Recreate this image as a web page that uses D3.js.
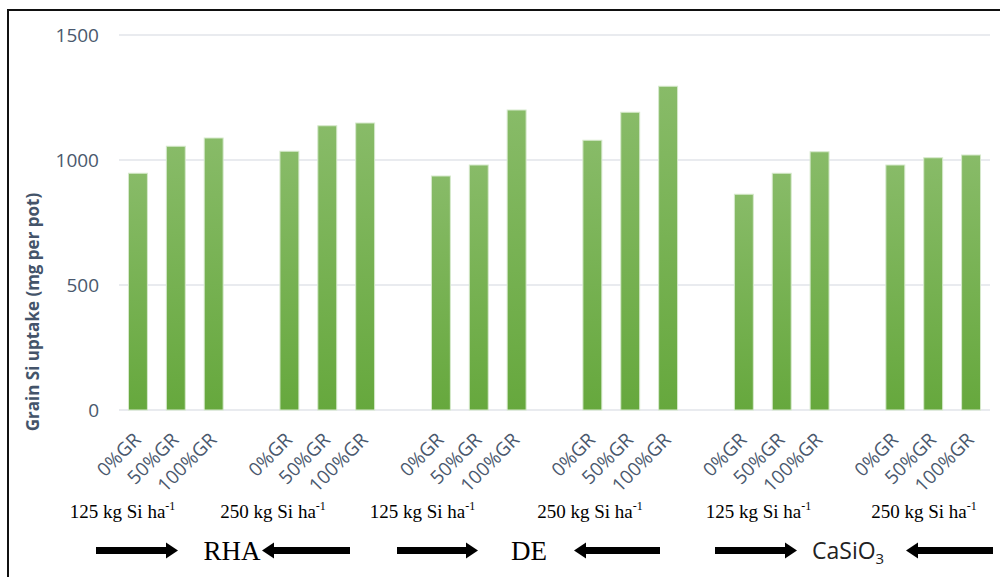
<!DOCTYPE html>
<html>
<head>
<meta charset="utf-8">
<script src="https://cdn.jsdelivr.net/npm/d3@7"></script>
<style>
  body { margin: 0; background: #fff; }
  svg { display: block; }
</style>
</head>
<body>
<div class="chart"></div>
<script>
// values
const sources = ['RHA', 'DE', 'CaSiO3'];
const doses = ['125', '250'];
const rates = ['0%GR', '50%GR', '100%GR'];
const uptake = [
  [947, 1055, 1088],   // RHA 125
  [1035, 1137, 1148],  // RHA 250
  [936, 980, 1200],    // DE 125
  [1079, 1191, 1295],  // DE 250
  [863, 947, 1033],    // CaSiO3 125
  [980, 1009, 1020]    // CaSiO3 250
];
const yTicks = [0, 500, 1000, 1500];

const width = 1000, height = 577;
const margin = ({top: 35, bottom: 167, left: 119, right: 10});
const serif = "'Liberation Serif', 'Times New Roman', serif";

let svg = d3.select('.chart')
  .append('svg')
  .attr('width', width)
  .attr('height', height);

// slots: 3 bars per group, an empty slot between groups
let slots = [];
uptake.forEach((g, gi) => {
  g.forEach((v, ri) => slots.push({key: gi + '-' + ri, group: gi, rate: rates[ri], value: v}));
  if (gi < uptake.length - 1) slots.push({key: 'gap' + gi, gap: true});
});
const bars = slots.filter(d => !d.gap);

const xScale = d3.scaleBand()
  .domain(slots.map(d => d.key))
  .range([margin.left, width - margin.right])
  .paddingInner(0.5)
  .paddingOuter(0.25);
const yScale = d3.scaleLinear()
  .domain([0, 1500])
  .range([height - margin.bottom, margin.top]);

const defs = svg.append('defs');
const grad = defs.append('linearGradient')
  .attr('id', 'barGrad')
  .attr('x1', 0).attr('y1', 0).attr('x2', 0).attr('y2', 1);
grad.append('stop').attr('offset', '0%').attr('stop-color', '#88bb68');
grad.append('stop').attr('offset', '100%').attr('stop-color', '#66a83d');

// frame
svg.append('rect')
  .attr('x', 8).attr('y', 10)
  .attr('width', 1010).attr('height', 600)
  .attr('fill', 'none')
  .attr('stroke', '#111')
  .attr('stroke-width', 2);

// grid
svg.append('g')
  .selectAll('line')
  .data(yTicks)
  .join('line')
  .attr('x1', margin.left)
  .attr('x2', width - margin.right)
  .attr('y1', d => yScale(d))
  .attr('y2', d => yScale(d))
  .attr('stroke', '#e2e5ea')
  .attr('stroke-width', 1.5);

const yAxis = d3.axisLeft(yScale)
  .tickValues(yTicks)
  .tickFormat(d3.format('d'))
  .tickSize(0)
  .tickPadding(20);
svg.append('g')
  .attr('class', 'axis y-axis')
  .attr('transform', `translate(${margin.left},0)`)
  .call(yAxis)
  .call(g => g.select('.domain').remove())
  .selectAll('text')
  .attr('font-family', 'Open Sans')
  .attr('font-size', 19)
  .attr('fill', '#4a586d');

svg.append('text')
  .text('Grain Si uptake (mg per pot)')
  .attr('transform', 'translate(39,312) rotate(-90)')
  .attr('text-anchor', 'middle')
  .attr('font-family', 'Open Sans')
  .attr('font-weight', 'bold')
  .attr('font-size', 17)
  .attr('fill', '#44546a');

// bars
svg.append('g')
  .selectAll('rect')
  .data(bars)
  .join('rect')
  .attr('x', d => xScale(d.key))
  .attr('width', xScale.bandwidth())
  .attr('y', d => yScale(d.value))
  .attr('height', d => yScale(0) - yScale(d.value))
  .attr('fill', 'url(#barGrad)')
  .attr('stroke', '#d6e9cc')
  .attr('stroke-width', 1);

// rotated category labels
svg.append('g')
  .selectAll('text')
  .data(bars)
  .join('text')
  .text(d => d.rate)
  .attr('transform', d => `translate(${xScale(d.key) + xScale.bandwidth() / 2 + 4},441) rotate(-45)`)
  .attr('text-anchor', 'end')
  .attr('font-family', 'Open Sans')
  .attr('font-size', 19)
  .attr('fill', '#4a586d');

// dose labels under each group
const doseShift = [-106, -107, -109, -93, -76, -62];
const groupCenter = gi => xScale(gi + '-1') + xScale.bandwidth() / 2;
let doseText = svg.append('g')
  .selectAll('text')
  .data(uptake.map((g, gi) => gi))
  .join('text')
  .attr('x', gi => groupCenter(gi) + doseShift[gi])
  .attr('y', 518)
  .style('font-family', serif)
  .attr('font-size', 19)
  .attr('fill', '#000');
doseText.append('tspan').text(gi => doses[gi % 2] + ' kg Si ha');
doseText.append('tspan').text('-1').attr('font-size', 12).attr('dy', -8);

// arrows and source names
const arrowY = 550.5;
function arrow(x1, x2) {
  // head at x2
  const dir = Math.sign(x2 - x1), hl = 12, hh = 8, sh = 3.5;
  const xb = x2 - dir * hl;
  return `M${x1},${arrowY - sh}L${xb},${arrowY - sh}L${xb},${arrowY - hh}L${x2},${arrowY}` +
    `L${xb},${arrowY + hh}L${xb},${arrowY + sh}L${x1},${arrowY + sh}Z`;
}
const arrows = [[96, 178], [350, 262], [397, 478], [660, 574], [715, 797], [993, 906]];
svg.append('g')
  .selectAll('path')
  .data(arrows)
  .join('path')
  .attr('d', d => arrow(d[0], d[1]))
  .attr('fill', '#000');

svg.append('text').text(sources[0])
  .attr('x', 232).attr('y', 560)
  .attr('text-anchor', 'middle')
  .style('font-family', serif)
  .attr('font-size', 27);
svg.append('text').text(sources[1])
  .attr('x', 529).attr('y', 560)
  .attr('text-anchor', 'middle')
  .style('font-family', serif)
  .attr('font-size', 27);
let ca = svg.append('text')
  .attr('x', 812).attr('y', 559)
  .attr('font-family', 'Open Sans')
  .attr('font-size', 23)
  .attr('fill', '#222');
ca.append('tspan').text('CaSiO');
ca.append('tspan').text('3').attr('font-size', 15).attr('dy', 5);
</script>
</body>
</html>
